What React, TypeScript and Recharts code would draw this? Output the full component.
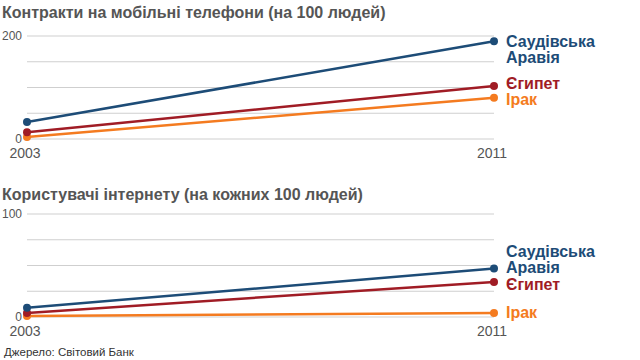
import React from 'react';
import { LineChart, Line, XAxis, YAxis, CartesianGrid } from 'recharts';

const years = [2003, 2011];

const mobileSaudi = [33, 190];
const mobileEgypt = [13, 103];
const mobileIraq = [4, 80];
const mobileTicks = [0, 50, 100, 150, 200];
const mobileLabelled = [0, 200];

const netSaudi = [9, 47];
const netEgypt = [4, 34];
const netIraq = [1, 4];
const netTicks = [0, 25, 50, 75, 100];
const netLabelled = [0, 100];

const FONT = '"Liberation Sans", Arial, sans-serif';
const GREY = '#555';

const COLORS = { saudi: '#1d4c77', egypt: '#a01c25', iraq: '#f47b20' };

type LabelOffsets = { saudi: number[]; egypt: number[]; iraq: number[] };

const endLabel = (lines: string[], color: string, dys: number[]) => (props: any) => {
  const { x, y, index } = props;
  if (index !== years.length - 1) return <g />;
  return (
    <g>
      {lines.map((t, i) => (
        <text key={t} x={x + 12} y={y + dys[i]} fill={color} fontSize={16} fontWeight="bold" fontFamily={FONT}>
          {t}
        </text>
      ))}
    </g>
  );
};

function Panel(props: {
  saudi: number[];
  egypt: number[];
  iraq: number[];
  ticks: number[];
  labelled: number[];
  offsets: LabelOffsets;
}) {
  const { saudi, egypt, iraq, ticks, labelled, offsets } = props;
  const data = years.map((yr, i) => ({ year: yr, saudi: saudi[i], egypt: egypt[i], iraq: iraq[i] }));
  const max = ticks[ticks.length - 1];
  const dot = (c: string) => ({ r: 4, fill: c, stroke: c, strokeWidth: 0 });
  return (
    <LineChart width={640} height={165} data={data} margin={{ top: 36, right: 146, left: 0, bottom: 0 }}>
      <CartesianGrid vertical={false} stroke="#cfcfcf" strokeWidth={1} />
      <XAxis
        dataKey="year"
        type="number"
        domain={[2003, 2011]}
        ticks={years}
        height={26}
        axisLine={false}
        tickLine={false}
        tickMargin={3}
        tick={{ fill: GREY, fontSize: 14, fontFamily: FONT, dx: -2 }}
      />
      <YAxis
        domain={[0, max]}
        ticks={ticks}
        width={27}
        axisLine={false}
        tickLine={false}
        tickSize={0}
        tickMargin={5}
        tickFormatter={(v: number) => (labelled.includes(v) ? String(v) : '')}
        tick={{ fill: GREY, fontSize: 12, fontFamily: FONT }}
      />
      <Line dataKey="iraq" stroke={COLORS.iraq} strokeWidth={2.5} dot={dot(COLORS.iraq)} isAnimationActive={false}
        label={endLabel(['Ірак'], COLORS.iraq, offsets.iraq)} />
      <Line dataKey="egypt" stroke={COLORS.egypt} strokeWidth={2.5} dot={dot(COLORS.egypt)} isAnimationActive={false}
        label={endLabel(['Єгипет'], COLORS.egypt, offsets.egypt)} />
      <Line dataKey="saudi" stroke={COLORS.saudi} strokeWidth={2.5} dot={dot(COLORS.saudi)} isAnimationActive={false}
        label={endLabel(['Саудівська', 'Аравія'], COLORS.saudi, offsets.saudi)} />
    </LineChart>
  );
}

const titleStyle: React.CSSProperties = {
  position: 'absolute',
  left: 2,
  fontFamily: FONT,
  fontWeight: 'bold',
  fontSize: 16,
  lineHeight: '20px',
  color: GREY,
  whiteSpace: 'nowrap',
};

export default function App() {
  return (
    <div style={{ position: 'absolute', left: 0, top: 0, width: 640, height: 360, background: '#fff', overflow: 'hidden' }}>
      <div style={{ ...titleStyle, top: 3 }}>Контракти на мобільні телефони (на 100 людей)</div>
      <div style={{ position: 'absolute', left: 0, top: 0 }}>
        <Panel saudi={mobileSaudi} egypt={mobileEgypt} iraq={mobileIraq} ticks={mobileTicks} labelled={mobileLabelled}
          offsets={{ saudi: [6, 22], egypt: [3], iraq: [7] }} />
      </div>
      <div style={{ ...titleStyle, top: 185 }}>Користувачі інтернету (на кожних 100 людей)</div>
      <div style={{ position: 'absolute', left: 0, top: 178 }}>
        <Panel saudi={netSaudi} egypt={netEgypt} iraq={netIraq} ticks={netTicks} labelled={netLabelled}
          offsets={{ saudi: [-12, 4], egypt: [8], iraq: [5] }} />
      </div>
      <div style={{ position: 'absolute', left: 4, top: 346, fontFamily: FONT, fontSize: 11.5, color: '#333' }}>
        Джерело: Світовий Банк
      </div>
    </div>
  );
}
